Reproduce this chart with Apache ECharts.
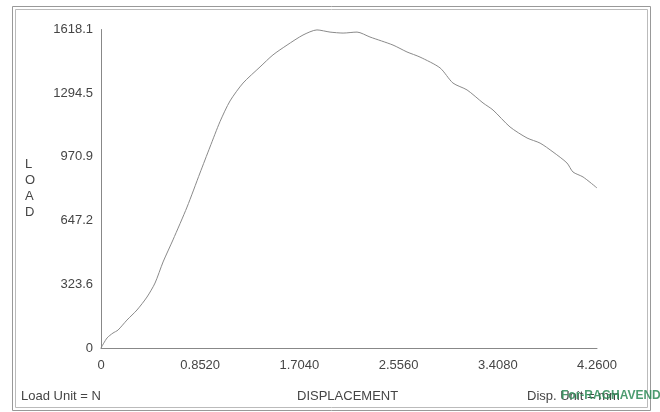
<!DOCTYPE html>
<html>
<head>
<meta charset="utf-8">
<script src="https://cdn.jsdelivr.net/npm/echarts@6/dist/echarts.min.js"></script>
<style>
html,body{margin:0;padding:0;background:#fff;}
#chart{width:660px;height:412px;}
</style>
</head>
<body>
<div id="chart"></div>
<script>
// Displacement (mm)
const displacement = [0, 0.052, 0.103, 0.146, 0.223, 0.309, 0.395, 0.464, 0.533, 0.618, 0.739, 0.850, 0.936, 1.022, 1.108, 1.220, 1.366, 1.477, 1.598, 1.735, 1.855, 1.967, 2.079, 2.199, 2.310, 2.508, 2.628, 2.740, 2.912, 3.023, 3.144, 3.281, 3.367, 3.513, 3.659, 3.771, 3.882, 4.002, 4.054, 4.140, 4.260];
// Load (N)
const load = [0, 51, 76, 91, 142, 193, 259, 330, 437, 549, 716, 889, 1021, 1150, 1255, 1346, 1428, 1489, 1539, 1590, 1616, 1605, 1600, 1605, 1580, 1539, 1504, 1478, 1423, 1346, 1311, 1245, 1209, 1123, 1067, 1041, 996, 940, 894, 869, 813];
const yTickLabels = ['0', '323.6', '647.2', '970.9', '1294.5', '1618.1'];
const xTickLabels = ['0', '0.8520', '1.7040', '2.5560', '3.4080', '4.2600'];
const yMax = 1618.1;
const xMax = 4.26;

const chart = echarts.init(document.getElementById('chart'));
const textColor = '#454545';
const font = 'Liberation Sans, Arial, sans-serif';
const yInterval = yMax / 5;
const xInterval = xMax / 5;

chart.setOption({
  animation: false,
  backgroundColor: '#fff',
  grid: {left: 101, right: 63, top: 29.5, bottom: 64},
  xAxis: {
    type: 'value', min: 0, max: xMax, interval: xInterval,
    axisLine: {lineStyle: {color: '#888', width: 1}},
    axisTick: {show: false},
    splitLine: {show: false},
    axisLabel: {
      color: textColor, fontFamily: font, fontSize: 13, margin: 11,
      formatter: function (v) { return xTickLabels[Math.round(v / xInterval)]; }
    }
  },
  yAxis: {
    type: 'value', min: 0, max: yMax, interval: yInterval,
    axisLine: {show: true, lineStyle: {color: '#888', width: 1}},
    axisTick: {show: false},
    splitLine: {show: false},
    axisLabel: {
      color: textColor, fontFamily: font, fontSize: 13, margin: 8,
      formatter: function (v) { return yTickLabels[Math.round(v / yInterval)]; }
    }
  },
  series: [{
    type: 'line',
    data: displacement.map((d, i) => [d, load[i]]),
    showSymbol: false,
    smooth: 0.25,
    lineStyle: {color: '#8a8a8a', width: 1}
  }],
  graphic: [
    {type: 'rect', shape: {x: 12.5, y: 6.5, width: 638, height: 404}, style: {fill: 'none', stroke: '#999', lineWidth: 1}},
    {type: 'rect', shape: {x: 15.5, y: 9.5, width: 632, height: 398}, style: {fill: 'none', stroke: '#bbb', lineWidth: 1}},
    {type: 'text', left: 25, top: 157, style: {text: 'L\nO\nA\nD', fill: textColor, font: '13px ' + font, lineHeight: 15.7, textAlign: 'left'}},
    {type: 'text', left: 21, top: 390, style: {text: 'Load Unit = N', fill: textColor, font: '13px ' + font}},
    {type: 'text', left: 297, top: 390, style: {text: 'DISPLACEMENT', fill: textColor, font: '13px ' + font}},
    {type: 'text', left: 527, top: 390, style: {text: 'Disp. Unit = mm', fill: textColor, font: '13px ' + font}},
    {type: 'text', left: 561, top: 390, style: {text: 'For-RAGHAVENDRA', fill: '#2e8b57', opacity: 0.85, font: 'bold 12px ' + font}}
  ]
});
</script>
</body>
</html>
